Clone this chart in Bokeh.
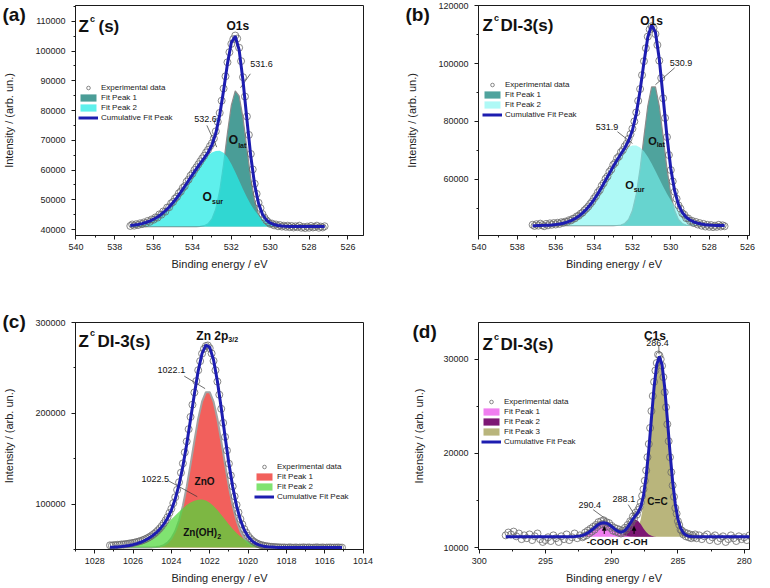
from bokeh.plotting import figure
from bokeh.layouts import column, row
from bokeh.models import (Range1d, SingleIntervalTicker, Label, Legend, LegendItem,
                          NumeralTickFormatter, Arrow, NormalHead)
from bokeh.embed import file_html
from bokeh.resources import INLINE

# ---------------------------------------------------------------- data ----
# O1s energy grid (panels a and b)
o1s_be = [537.2, 537.1, 537.0, 536.9, 536.8, 536.7, 536.6, 536.5, 536.4, 536.3, 536.2, 536.1,
          536.0, 535.9, 535.8, 535.7, 535.6, 535.5, 535.4, 535.3, 535.2, 535.1, 535.0, 534.9,
          534.8, 534.7, 534.6, 534.5, 534.4, 534.3, 534.2, 534.1, 534.0, 533.9, 533.8, 533.7,
          533.6, 533.5, 533.4, 533.3, 533.2, 533.1, 533.0, 532.9, 532.8, 532.7, 532.6, 532.5,
          532.4, 532.3, 532.2, 532.1, 532.0, 531.9, 531.8, 531.7, 531.6, 531.5, 531.4, 531.3,
          531.2, 531.1, 531.0, 530.9, 530.8, 530.7, 530.6, 530.5, 530.4, 530.3, 530.2, 530.1,
          530.0, 529.9, 529.8, 529.7, 529.6, 529.5, 529.4, 529.3, 529.2, 529.1, 529.0, 528.9,
          528.8, 528.7, 528.6, 528.5, 528.4, 528.3, 528.2, 528.1, 528.0, 527.9, 527.8, 527.7,
          527.6, 527.5, 527.4, 527.3, 527.2]
o1s_fit_be = [537.2, 537.0, 536.8, 536.6, 536.4, 536.2, 536.0, 535.8, 535.6, 535.4, 535.2, 535.0,
              534.8, 534.6, 534.4, 534.2, 534.0, 533.8, 533.6, 533.4, 533.2, 533.0, 532.8, 532.6,
              532.4, 532.2, 532.0, 531.8, 531.6, 531.4, 531.2, 531.0, 530.8, 530.6, 530.4, 530.2,
              530.0, 529.8, 529.6, 529.4, 529.2, 529.0, 528.8, 528.6, 528.4, 528.2, 528.0, 527.8,
              527.6, 527.4, 527.2]

# (a) Zc(s) O1s
a_base = 41000
a_exp = [41200, 41700, 41300, 41800, 41500, 42100, 41800, 42400, 42100, 42900, 42600, 43400,
         43300, 44100, 44000, 45100, 45000, 46100, 46000, 47400, 47500, 48800, 49300, 50400,
         51000, 52200, 52800, 54000, 54600, 56100, 56800, 58100, 58800, 60000, 60900, 61900,
         62900, 63900, 64800, 65900, 66800, 68000, 69000, 70600, 73000, 76200, 79200, 83300,
         87400, 91500, 96200, 99600, 102400, 104000, 105200, 104200, 101100, 96600, 91200, 84700,
         78000, 71800, 65400, 60200, 55400, 52000, 49000, 47200, 45200, 44000, 43100, 42500,
         41900, 42000, 41400, 41700, 41100, 41500, 41000, 41300, 40900, 41300, 40800, 41200,
         40700, 41100, 40800, 41300, 40600, 40900, 40500, 41000, 40600, 41200, 40700, 40900,
         41300, 40600, 41000, 40700, 41100]
a_fit1 = [41000, 41000, 41000, 41000, 41000, 41000, 41000, 41000, 41000, 41000, 41000, 41000,
          41000, 41000, 41000, 41000, 41000, 41000, 41080, 41300, 41940, 43550, 46960, 53040,
          61970, 72510, 81810, 86590, 84920, 77500, 67180, 57190, 49630, 44970, 42580, 41540,
          41160, 41040, 41000, 41000, 41000, 41000, 41000, 41000, 41000, 41000, 41000, 41000,
          41000, 41000, 41000]
a_fit2 = [41340, 41500, 41710, 41990, 42370, 42850, 43470, 44230, 45170, 46280, 47590, 49080,
          50740, 52560, 54480, 56470, 58450, 60370, 62130, 63680, 64950, 65860, 66380, 66470,
          65790, 64260, 62050, 59380, 56470, 53550, 50830, 48420, 46400, 44790, 43570, 42680,
          42060, 41640, 41380, 41210, 41120, 41060, 41030, 41010, 41000, 41000, 41000, 41000,
          41000, 41000, 41000]
a_cum = [41340, 41500, 41710, 41990, 42370, 42850, 43470, 44230, 45170, 46280, 47590, 49080,
         50740, 52560, 54480, 56470, 58450, 60370, 62220, 63980, 65890, 68410, 72340, 78510,
         86760, 95770, 102860, 104970, 100390, 90050, 77010, 64610, 55030, 48760, 45150, 43220,
         42220, 41680, 41380, 41210, 41120, 41060, 41030, 41010, 41000, 41000, 41000, 41000,
         41000, 41000, 41000]

# (b) Zc DI-3(s) O1s
b_base = 44000
b_exp = [44300, 43900, 44500, 44000, 44700, 44200, 43800, 44600, 44100, 44800, 44300, 44900,
         44400, 45000, 44600, 45200, 45000, 45400, 45300, 45900, 45800, 46400, 46500, 47200,
         47400, 48100, 48500, 49300, 49900, 50600, 51500, 52300, 53400, 54200, 55500, 56300,
         57800, 58700, 60200, 61000, 62600, 63400, 65000, 65700, 67300, 67900, 69400, 70100,
         71400, 72300, 74000, 75600, 77500, 80000, 83100, 87100, 91200, 96000, 100800, 105300,
         109300, 111800, 112900, 112300, 110200, 106400, 101000, 95000, 88000, 81200, 74600, 68400,
         63200, 59300, 55700, 53300, 51000, 49900, 48300, 47800, 46600, 46500, 45600, 45700,
         44900, 45300, 44400, 44900, 44000, 44600, 43700, 44300, 43600, 44200, 43500, 44000,
         43600, 44300, 43700, 44100, 43800]
b_fit1 = [44000, 44000, 44000, 44000, 44000, 44000, 44000, 44000, 44000, 44000, 44000, 44000,
          44000, 44000, 44000, 44000, 44000, 44000, 44000, 44000, 44000, 44000, 44060, 44230,
          44760, 46140, 49210, 54910, 63720, 74730, 85320, 91910, 91910, 85320, 74730, 63720,
          54910, 49210, 46140, 44760, 44230, 44060, 44000, 44000, 44000, 44000, 44000, 44000,
          44000, 44000, 44000]
b_fit2 = [44010, 44020, 44060, 44100, 44160, 44250, 44380, 44570, 44850, 45220, 45730, 46400,
          47250, 48330, 49640, 51210, 53030, 55070, 57300, 59660, 62060, 64420, 66610, 68530,
          70080, 71170, 71730, 71710, 71010, 69660, 67770, 65450, 62880, 60190, 57530, 55030,
          52760, 50780, 49120, 47760, 46700, 45890, 45280, 44850, 44550, 44350, 44210, 44130,
          44080, 44040, 44020]
b_cum = [44010, 44020, 44060, 44100, 44160, 44250, 44380, 44570, 44850, 45220, 45730, 46400,
         47250, 48330, 49640, 51210, 53030, 55070, 57300, 59660, 62060, 64420, 66670, 68760,
         70840, 73310, 76940, 82620, 90730, 100390, 109090, 113360, 110790, 101510, 88260, 74750,
         63670, 55990, 51260, 48520, 46930, 45950, 45280, 44850, 44550, 44350, 44210, 44130,
         44080, 44040, 44020]

# (c) Zc DI-3(s) Zn 2p3/2
c_base = 52000
c_be = [1027.2, 1027.1, 1027.0, 1026.9, 1026.8, 1026.7, 1026.6, 1026.5, 1026.4, 1026.3, 1026.2,
        1026.1, 1026.0, 1025.9, 1025.8, 1025.7, 1025.6, 1025.5, 1025.4, 1025.3, 1025.2, 1025.1,
        1025.0, 1024.9, 1024.8, 1024.7, 1024.6, 1024.5, 1024.4, 1024.3, 1024.2, 1024.1, 1024.0,
        1023.9, 1023.8, 1023.7, 1023.6, 1023.5, 1023.4, 1023.3, 1023.2, 1023.1, 1023.0, 1022.9,
        1022.8, 1022.7, 1022.6, 1022.5, 1022.4, 1022.3, 1022.2, 1022.1, 1022.0, 1021.9, 1021.8,
        1021.7, 1021.6, 1021.5, 1021.4, 1021.3, 1021.2, 1021.1, 1021.0, 1020.9, 1020.8, 1020.7,
        1020.6, 1020.5, 1020.4, 1020.3, 1020.2, 1020.1, 1020.0, 1019.9, 1019.8, 1019.7, 1019.6,
        1019.5, 1019.4, 1019.3, 1019.2, 1019.1, 1019.0, 1018.9, 1018.8, 1018.7, 1018.6, 1018.5,
        1018.4, 1018.3, 1018.2, 1018.1, 1018.0, 1017.9, 1017.8, 1017.7, 1017.6, 1017.5, 1017.4,
        1017.3, 1017.2, 1017.1, 1017.0, 1016.9, 1016.8, 1016.7, 1016.6, 1016.5, 1016.4, 1016.3,
        1016.2, 1016.1, 1016.0, 1015.9, 1015.8, 1015.7, 1015.6, 1015.5, 1015.4, 1015.3, 1015.2,
        1015.1]
c_exp = [54500, 54200, 54800, 54600, 55100, 55000, 55500, 55400, 55900, 56000, 56500, 56700,
         57200, 57600, 58100, 58700, 59300, 60100, 60900, 61900, 63000, 64200, 65700, 67200,
         69000, 71000, 73200, 75800, 78700, 82000, 85500, 90200, 94800, 101000, 107500, 115600,
         124000, 134500, 144800, 157000, 169000, 182500, 196000, 209500, 223000, 235500, 247500,
         257500, 265800, 271000, 274200, 274800, 271800, 266000, 257800, 247500, 235000, 220500,
         205000, 189500, 174000, 159000, 144500, 131500, 119500, 108500, 99000, 90800, 83500,
         77600, 72400, 68500, 65000, 62300, 60200, 58600, 57200, 56200, 55300, 54700, 54200,
         53700, 53400, 53100, 52900, 52700, 52600, 52400, 52300, 52200, 52100, 52200, 51900,
         52100, 52300, 51900, 52000, 52200, 51800, 52100, 52000, 52300, 51900, 52100, 52200,
         51800, 52000, 52100, 52300, 51900, 52000, 52200, 51800, 52100, 52000, 52200, 51900,
         52100, 52000, 52200, 51900, 52000]
c_fit_be = [1027.2, 1027.0, 1026.8, 1026.6, 1026.4, 1026.2, 1026.0, 1025.8, 1025.6, 1025.4,
            1025.2, 1025.0, 1024.8, 1024.6, 1024.4, 1024.2, 1024.0, 1023.8, 1023.6, 1023.4,
            1023.2, 1023.0, 1022.8, 1022.6, 1022.4, 1022.2, 1022.0, 1021.8, 1021.6, 1021.4,
            1021.2, 1021.0, 1020.8, 1020.6, 1020.4, 1020.2, 1020.0, 1019.8, 1019.6, 1019.4,
            1019.2, 1019.0, 1018.8, 1018.6, 1018.4, 1018.2, 1018.0, 1017.0, 1016.0, 1015.1]
c_fit1 = [52000, 52000, 52000, 52000, 52000, 52000, 52000, 52000, 52000, 52000,
          52090, 52240, 52580, 53310, 54770, 57510, 62290, 70050, 81760, 98100,
          119070, 143670, 169710, 193980, 212880, 223250, 223250, 212880, 193980, 169710,
          143670, 119070, 98100, 81760, 70050, 62290, 57510, 54770, 53310, 52580,
          52240, 52090, 52000, 52000, 52000, 52000, 52000, 52000, 52000, 52000]
c_fit2 = [52350, 52530, 52790, 53160, 53660, 54330, 55230, 56390, 57860, 59680,
          61890, 64520, 67560, 71010, 74810, 78880, 83130, 87420, 91580, 95450,
          98860, 101650, 103670, 104835, 105050, 103960, 101490, 97860, 93320, 88210,
          82870, 77590, 72630, 68180, 64340, 61150, 58610, 56640, 55160, 54100,
          53360, 52850, 52520, 52310, 52180, 52100, 52050, 52000, 52000, 52000]
c_cum = [52350, 52530, 52790, 53160, 53660, 54330, 55230, 56390, 57860, 59680,
         61980, 64760, 68140, 72320, 77580, 84390, 93420, 105470, 121340, 141550,
         165930, 193320, 221380, 246820, 265930, 275210, 272740, 258740, 235300, 205920,
         174540, 144660, 118730, 97940, 82390, 71440, 64120, 59410, 56470, 54680,
         53600, 52940, 52520, 52310, 52180, 52100, 52050, 52000, 52000, 52000]

# (d) Zc DI-3(s) C1s
d_base = 11150
d_be = [298.0, 297.8, 297.6, 297.4, 297.2, 297.0, 296.8, 296.6, 296.4, 296.2, 296.0, 295.8,
        295.6, 295.4, 295.2, 295.0, 294.8, 294.6, 294.4, 294.2, 294.0, 293.8, 293.6, 293.4,
        293.2, 293.0, 292.8, 292.6, 292.4, 292.2,
        292.1, 292.0, 291.9, 291.8, 291.7, 291.6, 291.5, 291.4, 291.3, 291.2, 291.1, 291.0,
        290.9, 290.8, 290.7, 290.6, 290.5, 290.4, 290.3, 290.2, 290.1, 290.0, 289.9, 289.8,
        289.7, 289.6, 289.5, 289.4, 289.3, 289.2, 289.1, 289.0, 288.9, 288.8, 288.7, 288.6,
        288.5, 288.4, 288.3, 288.2, 288.1, 288.0, 287.9, 287.8, 287.7, 287.6, 287.5, 287.4,
        287.3, 287.2, 287.1, 287.0, 286.9, 286.8, 286.7, 286.6, 286.5, 286.4, 286.3, 286.2,
        286.1, 286.0, 285.9, 285.8, 285.7, 285.6, 285.5, 285.4, 285.3, 285.2, 285.1, 285.0,
        284.9, 284.8, 284.7, 284.6, 284.5, 284.4, 284.3, 284.2, 284.1, 284.0, 283.9, 283.8,
        283.7, 283.6,
        283.4, 283.2, 283.0, 282.8, 282.6, 282.4, 282.2, 282.0, 281.8, 281.6, 281.4, 281.2,
        281.0, 280.8, 280.6, 280.4, 280.2, 280.0, 279.8, 279.6, 279.4]
d_exp = [11300, 11600, 11400, 11700, 11200, 11500, 10900, 11300, 11000, 11400, 10800, 11200,
         11500, 10900, 10600, 10800, 11100, 10700, 11300, 11000, 10600, 11200, 10900, 11400,
         10800, 11100, 11500, 11000, 11300, 11100,
         11200, 11600, 11300, 11800, 11500, 12000, 11700, 12200, 11900, 12400, 12200, 12700,
         12400, 12800, 12500, 12900, 12500, 12700, 12300, 12600, 12100, 12300, 11800, 12100,
         11700, 12000, 11600, 11900, 11500, 11800, 11600, 12100, 11900, 12400, 12200, 12800,
         12700, 13300, 13100, 13700, 13500, 14000, 14300, 14800, 15500, 16200, 17100, 18200,
         19600, 21000, 22700, 24500, 26100, 27600, 28800, 29600, 30500, 30400, 30000, 29300,
         28100, 26500, 24900, 23100, 21300, 19600, 18000, 16600, 15400, 14200, 13600, 12800,
         12400, 11900, 11800, 11400, 11600, 11200, 11500, 11100, 11400, 11000, 11300, 11100,
         11400, 11000,
         11300, 10900, 11200, 11400, 10800, 11100, 11300, 10700, 11000, 11200, 10600, 10900,
         11300, 11000, 10700, 11200, 10900, 11100, 10800, 11300, 11000]
d_fit_be = [298.0, 297.0, 296.0, 295.0, 294.0, 293.4, 293.0,
            292.8, 292.6, 292.4, 292.2, 292.0, 291.8, 291.6, 291.4, 291.2, 291.0, 290.8, 290.6,
            290.4, 290.2, 290.0, 289.8, 289.6, 289.4, 289.2, 289.0, 288.8, 288.6, 288.4, 288.2,
            288.0, 287.8, 287.6, 287.4, 287.2, 287.0, 286.8, 286.6, 286.4, 286.2, 286.0, 285.8,
            285.6, 285.4, 285.2, 285.0, 284.8, 284.6, 284.4, 284.2, 284.0,
            283.6, 283.0, 282.0, 281.0, 280.0, 279.4]
d_fit1 = [11150, 11150, 11150, 11150, 11150, 11150, 11150,
          11170, 11193, 11234, 11304, 11413, 11567, 11767, 11999, 12239, 12451, 12597, 12650,
          12597, 12451, 12239, 11999, 11767, 11567, 11413, 11304, 11234, 11193, 11170, 11158,
          11150, 11150, 11150, 11150, 11150, 11150, 11150, 11150, 11150, 11150, 11150, 11150,
          11150, 11150, 11150, 11150, 11150, 11150, 11150, 11150, 11150,
          11150, 11150, 11150, 11150, 11150, 11150]
d_fit2 = [11150, 11150, 11150, 11150, 11150, 11150, 11150,
          11150, 11150, 11150, 11150, 11150, 11150, 11150, 11150, 11150, 11150, 11150, 11150,
          11150, 11150, 11150, 11150, 11186, 11253, 11398, 11659, 12041, 12479, 12839, 12980,
          12839, 12479, 12041, 11659, 11398, 11253, 11186, 11150, 11150, 11150, 11150, 11150,
          11150, 11150, 11150, 11150, 11150, 11150, 11150, 11150, 11150,
          11150, 11150, 11150, 11150, 11150, 11150]
d_fit3 = [11150, 11150, 11150, 11150, 11150, 11150, 11150,
          11150, 11150, 11150, 11150, 11150, 11150, 11150, 11150, 11150, 11150, 11150, 11150,
          11150, 11150, 11150, 11150, 11150, 11150, 11150, 11150, 11171, 11213, 11319, 11564,
          12075, 13032, 14633, 17014, 20129, 23657, 26997, 29415, 30300, 29415, 26997, 23657,
          20129, 17014, 14633, 13032, 12075, 11564, 11319, 11213, 11171,
          11150, 11150, 11150, 11150, 11150, 11150]
d_cum = [11150, 11150, 11150, 11150, 11150, 11150, 11150,
         11170, 11193, 11234, 11304, 11413, 11567, 11767, 11999, 12239, 12451, 12597, 12650,
         12597, 12451, 12239, 12010, 11803, 11670, 11661, 11813, 12146, 12585, 13028, 13402,
         13768, 14361, 15524, 17523, 20377, 23760, 27033, 29425, 30300, 29415, 26997, 23657,
         20129, 17014, 14633, 13032, 12075, 11564, 11319, 11213, 11171,
         11150, 11150, 11150, 11150, 11150, 11150]

for nm, xs, ys in [("a_exp", o1s_be, a_exp), ("a_fit1", o1s_fit_be, a_fit1), ("a_fit2", o1s_fit_be, a_fit2),
                   ("a_cum", o1s_fit_be, a_cum), ("b_exp", o1s_be, b_exp), ("b_fit1", o1s_fit_be, b_fit1),
                   ("b_fit2", o1s_fit_be, b_fit2), ("b_cum", o1s_fit_be, b_cum), ("c_exp", c_be, c_exp),
                   ("c_fit1", c_fit_be, c_fit1), ("c_fit2", c_fit_be, c_fit2), ("c_cum", c_fit_be, c_cum),
                   ("d_exp", d_be, d_exp), ("d_fit1", d_fit_be, d_fit1), ("d_fit2", d_fit_be, d_fit2),
                   ("d_fit3", d_fit_be, d_fit3), ("d_cum", d_fit_be, d_cum)]:
    assert len(xs) == len(ys), (nm, len(xs), len(ys))

# -------------------------------------------------------------- styling ----
FONT = "Liberation Sans"
BLUE = "#1d1db0"
CIRC = "#6a6a6a"
INK = "#1a1a1a"
FH1 = 230   # frame height, top row
FH2 = 227   # frame height, bottom row


def make_fig(w, h, xr, yr, bl, br, bt, bb, xtick, ytick, ylab_standoff):
    p = figure(width=w, height=h, x_range=Range1d(*xr), y_range=Range1d(*yr),
               output_backend="svg", toolbar_location=None,
               min_border_left=bl, min_border_right=br, min_border_top=bt, min_border_bottom=bb)
    p.grid.visible = False
    p.outline_line_color = INK
    p.outline_line_width = 1
    p.outline_line_alpha = 1.0
    p.background_fill_color = "white"
    p.border_fill_color = "white"
    for ax in (p.xaxis[0], p.yaxis[0]):
        ax.axis_line_color = INK
        ax.major_tick_line_color = INK
        ax.minor_tick_line_color = INK
        ax.major_tick_in = 0
        ax.major_tick_out = 4
        ax.minor_tick_in = 0
        ax.minor_tick_out = 2
        ax.major_label_text_font = FONT
        ax.major_label_text_font_size = "9px"
        ax.major_label_text_color = "#222222"
        ax.axis_label_text_font = FONT
        ax.axis_label_text_font_size = "11px"
        ax.axis_label_text_font_style = "normal"
        ax.axis_label_text_color = "#222222"
    p.xaxis.ticker = SingleIntervalTicker(interval=xtick, num_minor_ticks=2)
    p.yaxis.ticker = SingleIntervalTicker(interval=ytick, num_minor_ticks=2)
    p.xaxis.formatter = NumeralTickFormatter(format="0")
    p.yaxis.formatter = NumeralTickFormatter(format="0")
    p.xaxis.axis_label = "Binding energy / eV"
    p.yaxis.axis_label = "Intensity / (arb. un.)"
    p.xaxis.major_label_standoff = 4
    p.xaxis.axis_label_standoff = 5
    p.yaxis.major_label_standoff = 6
    p.yaxis.axis_label_standoff = ylab_standoff
    return p


def panel_tag(p, text, offset, standoff):
    # panel letter drawn as the plot title, pulled down beside the frame
    p.title.text = text
    p.title.align = "left"
    p.title.offset = offset
    p.title.standoff = standoff
    p.title.vertical_align = "bottom"
    p.title.text_font = FONT
    p.title.text_font_size = "19px"
    p.title.text_font_style = "bold"
    p.title.text_color = "#111111"


def lab(p, x, y, text, size, bold=False, xu="data", yu="data", align="left",
        base="middle", xo=0, yo=0, color="#111111"):
    p.add_layout(Label(x=x, y=y, x_units=xu, y_units=yu, text=text, text_font=FONT,
                       text_font_size=f"{size}px",
                       text_font_style="bold" if bold else "normal",
                       text_align=align, text_baseline=base, x_offset=xo, y_offset=yo,
                       text_color=color))


def add_legend(p, items, x, top, fh):
    n = len(items)
    leg = Legend(items=[LegendItem(label=l, renderers=[r]) for l, r in items],
                 location=(x, fh - top - n * 10),
                 label_text_font=FONT, label_text_font_size="8px", label_text_color="#222222",
                 label_height=10, glyph_height=9, glyph_width=20, spacing=0, padding=0,
                 margin=0, label_standoff=3, background_fill_alpha=0, border_line_alpha=0)
    p.add_layout(leg)


def title(p, fh, zx, base, rest, rest_x):
    lab(p, zx, fh - base, "Z", 17, True, "screen", "screen", base="alphabetic")
    lab(p, zx + 11.5, fh - base + 8, "c", 9, True, "screen", "screen", base="alphabetic")
    lab(p, rest_x, fh - base, rest, 17, True, "screen", "screen", base="alphabetic")


def leaders(p, segs):
    p.segment(x0=[s[0] for s in segs], y0=[s[1] for s in segs],
              x1=[s[2] for s in segs], y1=[s[3] for s in segs],
              line_color="#333333", line_width=0.7)


# ------------------------------------------------------------- panel a ----
pa = make_fig(385, 275, (540.02, 525.2), (38000, 115300), 73, 22, 5, 40, 2, 10000, 17)
panel_tag(pa, "(a)", -73, -38)
ra1 = pa.varea(x=o1s_fit_be, y1=a_base, y2=a_fit1, fill_color="#4a9d97", fill_alpha=1.0)
pa.line(o1s_fit_be, a_fit1, line_color="#8c8c8c", line_width=1.2)
ra2 = pa.varea(x=o1s_fit_be, y1=a_base, y2=a_fit2, fill_color="#28ebe6", fill_alpha=0.75)
rae = pa.scatter(o1s_be, a_exp, marker="circle", size=7, fill_color=None,
                 line_color=CIRC, line_width=0.8)
leaders(pa, [(531.02, 92350, 531.53, 87650), (533.26, 75000, 532.75, 67700)])
rac = pa.line(o1s_fit_be, a_cum, line_color=BLUE, line_width=3)
add_legend(pa, [("Experimental data", rae), ("Fit Peak 1", ra1), ("Fit Peak 2", ra2),
                ("Cumulative Fit Peak", rac)], 3, 77, FH1)
title(pa, FH1, 3, 21, "(s)", 23)
lab(pa, 531.67, FH1 - 20, "O1s", 12, True, "data", "screen", align="center", base="alphabetic")
lab(pa, 530.45, 95700, "531.6", 9, align="center")
lab(pa, 533.33, 77250, "532.6", 9, align="center")
lab(pa, 532.14, 70000, "O", 12, True)
lab(pa, 532.14, 70000, "lat", 7, True, xo=9.5, yo=-5)
lab(pa, 533.48, 51000, "O", 12, True)
lab(pa, 533.48, 51000, "sur", 7, True, xo=9.5, yo=-5)

# ------------------------------------------------------------- panel b ----
pb = make_fig(383, 275, (540.02, 525.9), (40600, 120050), 93, 19, 5, 40, 2, 20000, 17)
panel_tag(pb, "(b)", -73, -38)
rb1 = pb.varea(x=o1s_fit_be, y1=b_base, y2=b_fit1, fill_color="#4fa39d", fill_alpha=1.0)
pb.line(o1s_fit_be, b_fit1, line_color="#8c8c8c", line_width=1.2)
rb2 = pb.varea(x=o1s_fit_be, y1=b_base, y2=b_fit2, fill_color="#78f5f0", fill_alpha=0.6)
rbe = pb.scatter(o1s_be, b_exp, marker="circle", size=7, fill_color=None,
                 line_color=CIRC, line_width=0.8)
leaders(pb, [(529.8, 98500, 530.8, 92700), (532.78, 76450, 532.0, 72400)])
rbc = pb.line(o1s_fit_be, b_cum, line_color=BLUE, line_width=3)
add_legend(pb, [("Experimental data", rbe), ("Fit Peak 1", rb1), ("Fit Peak 2", rb2),
                ("Cumulative Fit Peak", rbc)], 4, 74, FH1)
title(pb, FH1, 4, 20, "DI-3(s)", 22)
lab(pb, 531.0, FH1 - 15, "O1s", 12, True, "data", "screen", align="center", base="alphabetic")
lab(pb, 529.47, 100250, "530.9", 9, align="center")
lab(pb, 533.33, 78200, "531.9", 9, align="center")
lab(pb, 531.18, 73300, "O", 11, True)
lab(pb, 531.18, 73300, "lat", 7, True, xo=8.5, yo=-4)
lab(pb, 532.38, 57900, "O", 11, True)
lab(pb, 532.38, 57900, "sur", 7, True, xo=8.5, yo=-4)

# ------------------------------------------------------------- panel c ----
pc = make_fig(385, 311, (1029, 1013.98), (49900, 300100), 73, 22, 47, 37, 2, 100000, 17)
panel_tag(pc, "(c)", -73, -18)
rc1 = pc.varea(x=c_fit_be, y1=c_base, y2=c_fit1, fill_color="#f2605c", fill_alpha=1.0)
pc.line(c_fit_be, c_fit1, line_color="#a3a3a3", line_width=2)
rc2 = pc.varea(x=c_fit_be, y1=c_base, y2=c_fit2, fill_color="#4fd83a", fill_alpha=0.72)
rce = pc.scatter(c_be, c_exp, marker="circle", size=7, fill_color=None,
                 line_color=CIRC, line_width=0.8)
leaders(pc, [(1023.33, 241000, 1022.24, 227200), (1024.15, 125600, 1022.65, 108100)])
rcc = pc.line(c_fit_be, c_cum, line_color=BLUE, line_width=3)
add_legend(pc, [("Experimental data", rce), ("Fit Peak 1", rc1), ("Fit Peak 2", rc2),
                ("Cumulative Fit Peak", rcc)], 179, 139, FH2)
title(pc, FH2, 3, 18.5, "DI-3(s)", 22)
lab(pc, 1022.70, FH2 - 13.3, "Zn 2p", 12, True, "data", "screen", base="alphabetic")
lab(pc, 1022.70, FH2 - 16.5, "3/2", 7, True, "data", "screen", base="alphabetic", xo=32)
lab(pc, 1024.0, 247200, "1022.1", 9, align="center")
lab(pc, 1024.84, 128100, "1022.5", 9, align="center")
lab(pc, 1022.79, 124500, "ZnO", 10, True)
lab(pc, 1023.38, 68700, "Zn(OH)", 10, True)
lab(pc, 1023.38, 68700, "2", 7, True, xo=34, yo=-4)

# ------------------------------------------------------------- panel d ----
pd = make_fig(383, 311, (300.05, 279.6), (9800, 33900), 93, 19, 47, 37, 5, 10000, 15)
panel_tag(pd, "(d)", -66, -38)
rd3 = pd.varea(x=d_fit_be, y1=d_base, y2=d_fit3, fill_color="#b9b57c", fill_alpha=1.0)
rd2 = pd.varea(x=d_fit_be, y1=d_base, y2=d_fit2, fill_color="#7d1774", fill_alpha=1.0)
rd1 = pd.varea(x=d_fit_be, y1=d_base, y2=d_fit1, fill_color="#f07ef0", fill_alpha=1.0)
rde = pd.scatter(d_be, d_exp, marker="circle", size=7, fill_color=None,
                 line_color=CIRC, line_width=0.8)
leaders(pd, [(291.40, 14030, 290.38, 12980), (288.75, 14560, 288.24, 13400),
             (286.45, 31450, 286.42, 30530)])
rdc = pd.line(d_fit_be, d_cum, line_color=BLUE, line_width=3)
for ax_x in (290.56, 288.31):
    pd.add_layout(Arrow(end=NormalHead(size=4, line_color="black", fill_color="black",
                                       line_width=0.5),
                        x_start=ax_x, y_start=11450, x_end=ax_x, y_end=12250,
                        line_color="black", line_width=1))
add_legend(pd, [("Experimental data", rde), ("Fit Peak 1", rd1), ("Fit Peak 2", rd2),
                ("Fit Peak 3", rd3), ("Cumulative Fit Peak", rdc)], 3, 74, FH2)
title(pd, FH2, 4, 22, "DI-3(s)", 22)
lab(pd, 286.74, FH2 - 13.5, "C1s", 12, True, "data", "screen", align="center", base="alphabetic")
lab(pd, 286.55, FH2 - 20.5, "286.4", 9, False, "data", "screen", align="center")
lab(pd, 291.66, 14560, "290.4", 9, align="center")
lab(pd, 289.08, 15190, "288.1", 9, align="center")
lab(pd, 287.31, 14920, "C=C", 10, True)
lab(pd, 291.89, 10630, "-COOH", 9.5, True)
lab(pd, 289.12, 10630, "C-OH", 9.5, True)

layout = column(row(pa, pb), row(pc, pd))
open("out.html", "w").write(file_html(layout, INLINE, "XPS"))
